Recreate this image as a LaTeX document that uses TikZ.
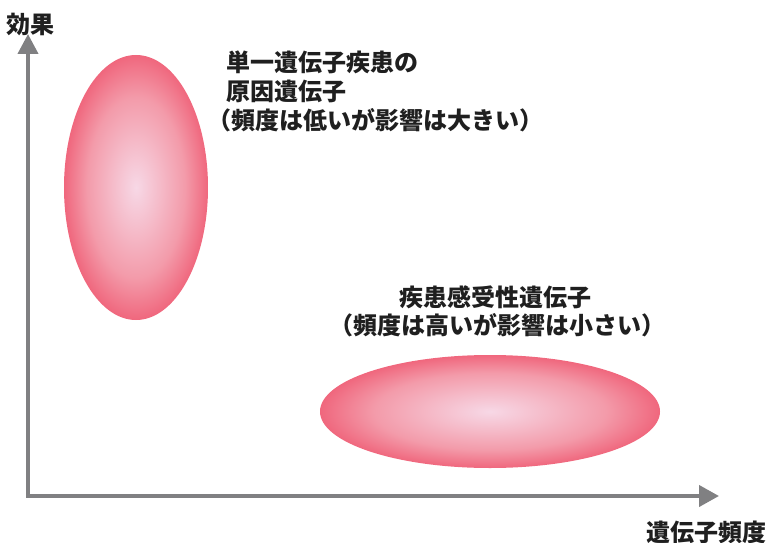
\documentclass[tikz,border=0pt]{standalone}
\usepackage{fontspec}
\setmainfont{Noto Sans CJK JP}
\usetikzlibrary{shapes.geometric,arrows.meta}
\definecolor{axisgray}{RGB}{128,128,130}
\definecolor{pcenter}{RGB}{247,216,230}
\definecolor{plight}{RGB}{245,188,202}
\definecolor{pmid}{RGB}{243,155,170}
\definecolor{pedge}{RGB}{239,90,114}
\pgfdeclareradialshading{pinkball}{\pgfpoint{0bp}{0bp}}{%
  color(0bp)=(pcenter); color(8bp)=(plight); color(17bp)=(pmid);
  color(27bp)=(pedge); color(50bp)=(pedge)}
\tikzset{
  blob/.style={ellipse, draw=none, inner sep=0pt, shade, shading=pinkball},
  axisline/.style={draw=axisgray, line width=4pt, line join=miter,
    {Triangle[length=20pt,width=20pt,fill=axisgray]}-{Triangle[length=20pt,width=21pt,fill=axisgray]}},
  lbl/.style={inner sep=0pt, font=\fontsize{24pt}{29pt}\selectfont\bfseries, text=black!88},
}
\begin{document}
\begin{tikzpicture}[x=1pt,y=-1pt]
\useasboundingbox (0,0) rectangle (768,543);
% ellipses
\node[blob, minimum width=144pt, minimum height=265pt] (gene1) at (136,187.5) {};
\node[blob, minimum width=340pt, minimum height=113pt] (gene2) at (490,411.5) {};
% axes
\coordinate (O) at (28,496);
\coordinate (ytop) at (28,34);
\coordinate (xend) at (719,496);
\draw[axisline] (ytop) -- (O) -- (xend);
% axis labels
\node[lbl, anchor=base] (ylab) at (30.5,34) {効果};
\node[lbl, anchor=base] (xlab) at (706,541) {遺伝子頻度};
% upper block
\node[lbl, anchor=base west] (t1a) at (226,71) {単一遺伝子疾患の};
\node[lbl, anchor=base west] (t1b) at (226,100) {原因遺伝子};
\node[lbl, anchor=base west] (t1c) at (207,129) {（頻度は低いが影響は大きい）};
% lower block
\node[lbl, anchor=base] (t2a) at (495.5,306) {疾患感受性遺伝子};
\node[lbl, anchor=base] (t2b) at (497,334) {（頻度は高いが影響は小さい）};
\end{tikzpicture}
\end{document}
